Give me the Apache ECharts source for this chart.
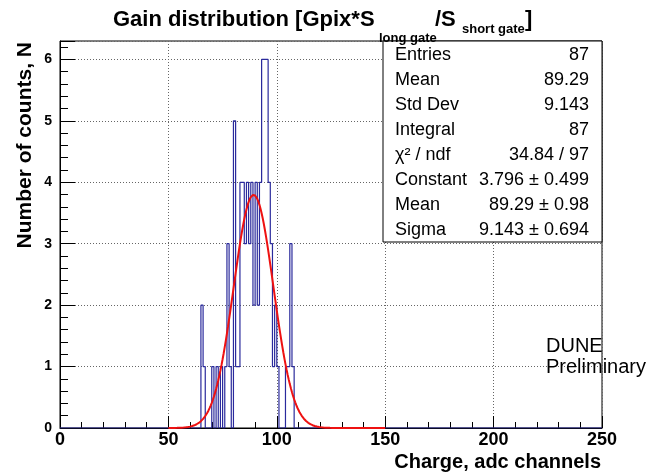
<!DOCTYPE html>
<html>
<head>
<meta charset="utf-8">
<script src="https://cdn.jsdelivr.net/npm/echarts@6/dist/echarts.min.js"></script>
<style>
  html, body { margin: 0; padding: 0; background: #fff; }
  #chart { width: 655px; height: 475px; }
</style>
</head>
<body>
<div id="chart"></div>
<script>
// histogram contents (bin width 1, range 0-250), only non-empty bins
var binWidth = 1;
var histMin = 0;
var histMax = 250;
var binLow = [65, 66, 70, 72, 74, 76, 77, 78, 80, 81, 82, 83, 84, 85, 86, 87, 88, 89, 90, 91, 92, 93, 94, 95, 96, 97, 98, 99, 100, 104, 105, 106, 107];
var binCounts = [2, 1, 1, 1, 1, 1, 3, 1, 5, 1, 1, 4, 4, 3, 4, 3, 4, 2, 4, 2, 4, 6, 6, 6, 4, 3, 1, 2, 1, 1, 1, 3, 1];

// gaus fit result (from the stat box), fit range 50-150
var fitConstant = 3.796;
var fitMean = 89.29;
var fitSigma = 9.143;
var fitRange = [50, 150];

// stat box
var statLabels = ['Entries', 'Mean', 'Std Dev', 'Integral', 'χ² / ndf', 'Constant', 'Mean', 'Sigma'];
var statValues = ['87', '89.29', '9.143', '87', '34.84 / 97', '3.796 ± 0.499', '89.29 ± 0.98', '9.143 ± 0.694'];

var FONT = '"Liberation Sans", Arial, Helvetica, sans-serif';

// full bin list -> step outline
var nBins = (histMax - histMin) / binWidth;
var counts = [];
for (var i = 0; i < nBins; i++) counts.push(0);
binLow.forEach(function (lo, k) {
  counts[Math.round((lo - histMin) / binWidth)] = binCounts[k];
});
var histData = counts.map(function (c, i) { return [histMin + i * binWidth, c]; });
histData.push([histMax, 0]);

// fitted gaussian drawn over the fit range
var fitData = [];
for (var x = fitRange[0]; x <= fitRange[1] + 1e-9; x += 0.5) {
  var t = (x - fitMean) / fitSigma;
  fitData.push([x, fitConstant * Math.exp(-0.5 * t * t)]);
}

var chart = echarts.init(document.getElementById('chart'));

// text placed by its baseline (top = baseline - 0.8 * size)
function label(str, x, base, size, weight, extra) {
  var el = {
    type: 'text', z: 20,
    style: { text: str, x: x, y: base - 0.8 * size, font: (weight || '') + ' ' + size + 'px ' + FONT,
      fill: '#000', textVerticalAlign: 'top' }
  };
  if (extra) for (var k in extra) el.style[k] = extra[k];
  return el;
}

// stat box graphic
var boxX = 383, boxY = 41, boxW = 219, boxH = 201, rowH = 25;
var statEls = [{
  type: 'rect',
  shape: { x: boxX, y: boxY, width: boxW, height: boxH },
  style: { fill: '#fff', stroke: '#000', lineWidth: 1 },
  z: 10
}];
statLabels.forEach(function (lab, i) {
  statEls.push(label(lab, boxX + 12, 60 + i * rowH, 18));
  statEls.push(label(statValues[i], boxX + 206, 60 + i * rowH, 18, '', { textAlign: 'right' }));
});

var option = {
  animation: false,
  backgroundColor: '#fff',
  grid: { left: 60, right: 53, top: 41, bottom: 47, containLabel: false,
    show: true, borderColor: '#000', borderWidth: 1, backgroundColor: 'transparent' },
  xAxis: {
    type: 'value', min: 0, max: 250, interval: 50,
    axisLine: { show: true, lineStyle: { color: '#000', width: 1 } },
    axisTick: { show: true, inside: true, length: 12, lineStyle: { color: '#000' } },
    minorTick: { show: true, splitNumber: 5, length: 6, lineStyle: { color: '#000' } },
    splitLine: { show: true, lineStyle: { color: '#666', width: 1, type: [1, 2] } },
    axisLabel: { margin: 3, color: '#000', fontWeight: 'bold', fontSize: 18, fontFamily: FONT }
  },
  yAxis: {
    type: 'value', min: 0, max: 6.3, interval: 1,
    axisLine: { show: true, lineStyle: { color: '#000', width: 1 } },
    axisTick: { show: true, inside: true, length: 15, lineStyle: { color: '#000' } },
    minorTick: { show: true, splitNumber: 5, length: 8, lineStyle: { color: '#000' } },
    splitLine: { show: true, lineStyle: { color: '#666', width: 1, type: [1, 2] } },
    axisLabel: { margin: 8, showMaxLabel: false, color: '#000', fontWeight: 'bold', fontSize: 14, fontFamily: FONT }
  },
  series: [
    {
      name: 'hist', type: 'line', step: 'end', data: histData,
      symbol: 'none', lineStyle: { color: '#2a2a9c', width: 1.2 }, z: 2
    },
    {
      name: 'fit', type: 'line', data: fitData,
      symbol: 'none', lineStyle: { color: '#ee1111', width: 2 }, z: 3
    }
  ],
  graphic: [
    // title with subscripts
    label('Gain distribution [Gpix*S', 113, 27, 22, 'bold'),
    label('long gate', 379, 42, 13, 'bold'),
    label('/S', 435, 27, 22, 'bold'),
    label('short gate', 462, 33, 13, 'bold'),
    label(']', 525, 27, 22, 'bold'),
    // axis titles
    { type: 'text', rotation: Math.PI / 2, x: 25, y: 42, z: 20,
      style: { text: 'Number of counts, N', x: 0, y: 0, font: 'bold 21px ' + FONT, fill: '#000',
        textAlign: 'right', textVerticalAlign: 'middle' } },
    label('Charge, adc channels', 601, 468, 20, 'bold', { textAlign: 'right' }),
    // label
    label('DUNE', 546, 352, 20),
    label('Preliminary', 546, 373, 20)
  ].concat(statEls)
};

chart.setOption(option);
</script>
</body>
</html>
